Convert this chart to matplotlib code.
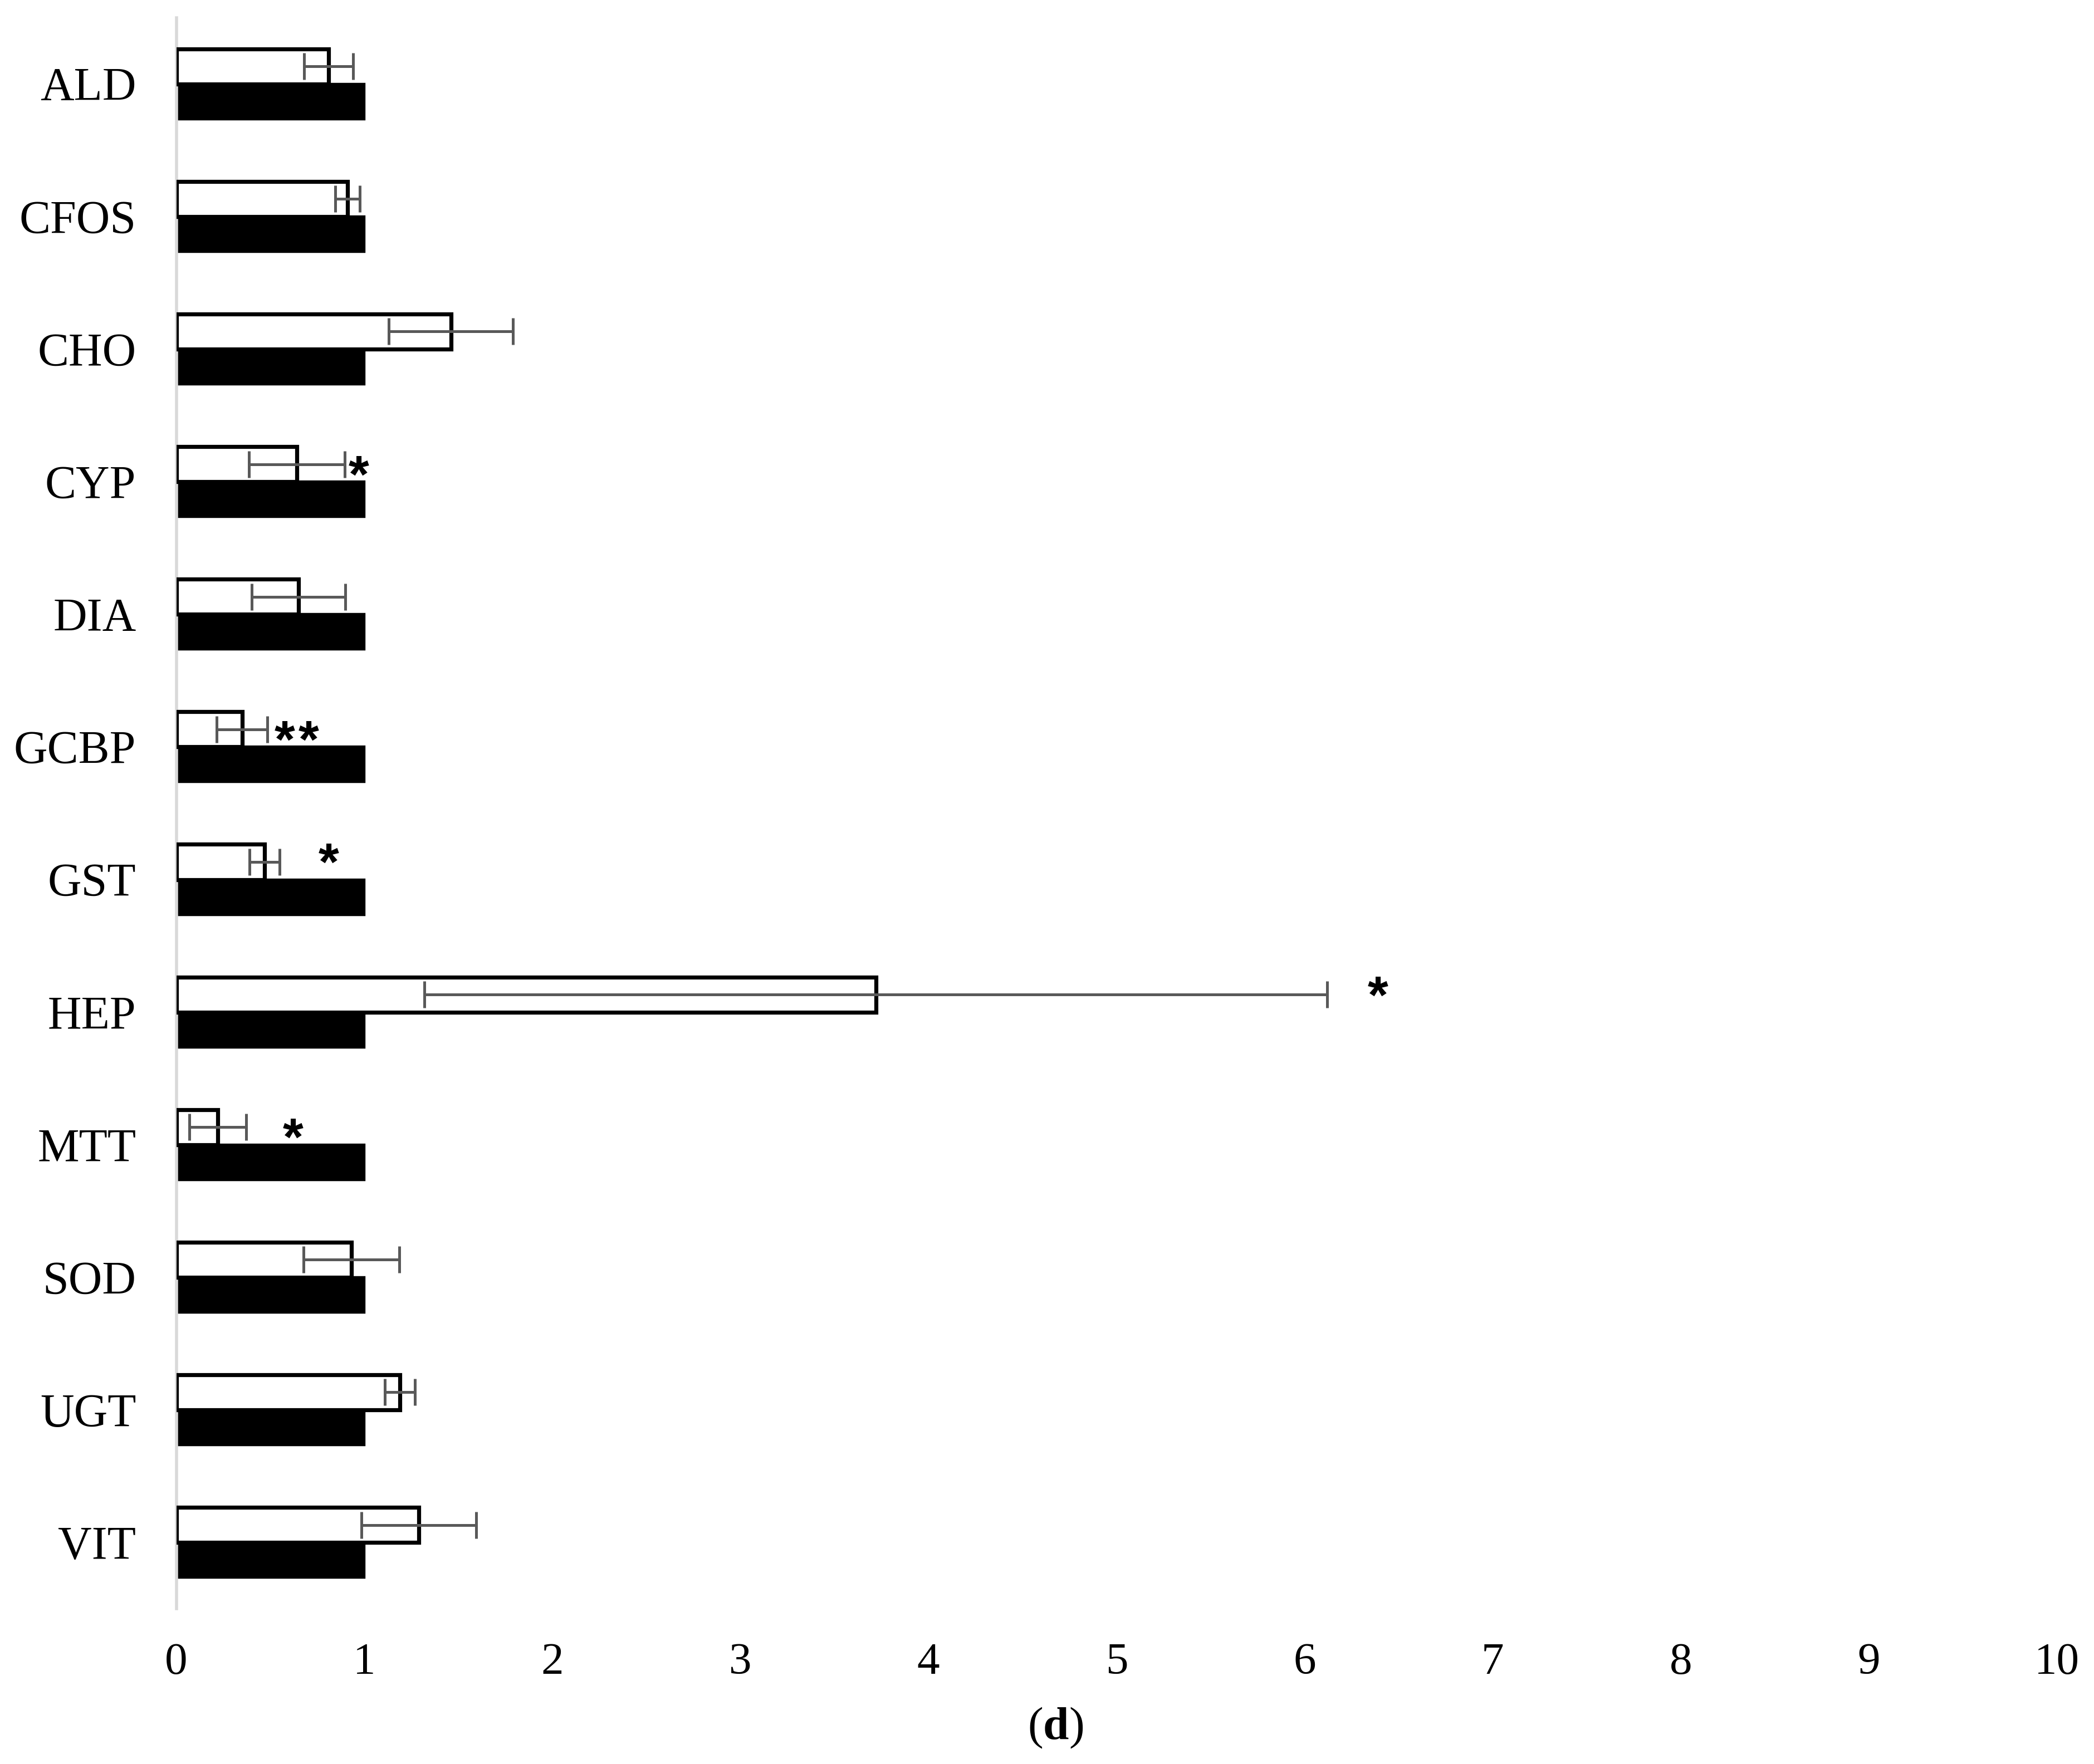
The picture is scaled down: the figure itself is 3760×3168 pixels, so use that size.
import numpy as np
import matplotlib
matplotlib.use("Agg")
import matplotlib.pyplot as plt

# relative expression, treated (white) vs control (black)
genes = ["ALD", "CFOS", "CHO", "CYP", "DIA", "GCBP", "GST", "HEP", "MTT", "SOD", "UGT", "VIT"]
treated = [0.81, 0.91, 1.46, 0.64, 0.65, 0.35, 0.47, 3.72, 0.22, 0.93, 1.19, 1.29]
treated_err = [0.13, 0.065, 0.33, 0.255, 0.25, 0.135, 0.08, 2.4, 0.15, 0.255, 0.08, 0.305]
control = [1.0, 1.0, 1.0, 1.0, 1.0, 1.0, 1.0, 1.0, 1.0, 1.0, 1.0, 1.0]
# significance marks: (gene, number of stars, x position)
signif = [("CYP", 1, 0.97), ("GCBP", 2, 0.64), ("GST", 1, 0.81),
          ("HEP", 1, 6.39), ("MTT", 1, 0.62)]
raised = ["GST", "HEP"]  # these stars sit a little higher in the original

plt.rcParams["font.family"] = ["Liberation Serif", "DejaVu Serif"]
plt.rcParams["mathtext.fontset"] = "custom"
plt.rcParams["mathtext.rm"] = "Liberation Serif"
plt.rcParams["mathtext.bf"] = "Liberation Serif:bold"

fig = plt.figure(figsize=(9.4, 7.92), dpi=400)
ax = fig.add_axes([0.0842, 0.088, 0.898, 0.902])

y = np.arange(len(genes))
h = 0.265

ax.barh(y + h / 2, control, height=h, color="black", edgecolor="black", linewidth=0.8, zorder=2)
ax.barh(y - h / 2, treated, height=h, color="white", edgecolor="black", linewidth=1.3, zorder=3)
ax.errorbar(treated, y - h / 2, xerr=treated_err, fmt="none", ecolor="#595959",
            elinewidth=0.9, capsize=4.3, capthick=0.9, zorder=4)

# y axis is inverted, so a smaller offset puts the star higher
for gene, n, xpos in signif:
    i = genes.index(gene)
    off = 0.135 if gene in raised else 0.21
    for k in range(n):
        xs = xpos + (k - (n - 1) / 2) * 0.125
        ax.text(xs, i - h / 2 + off, "*", ha="center", va="baseline", fontsize=17,
                fontweight="bold", family="Liberation Sans", zorder=5)

ax.set_xlim(0, 10)
ax.set_ylim(len(genes) - 0.5, -0.5)
ax.set_xticks(range(0, 11))
ax.set_yticks(y)
ax.set_yticklabels(genes, fontsize=15.1)
ax.tick_params(axis="x", length=0, pad=11, labelsize=14.6)
ax.tick_params(axis="y", length=0, pad=13)

for s in ["top", "right", "bottom"]:
    ax.spines[s].set_visible(False)
ax.spines["left"].set_color("#d9d9d9")
ax.spines["left"].set_linewidth(1.0)

fig.text(0.504, 0.0205, r"($\mathbf{d}$)", ha="center", va="center", fontsize=15)

fig.savefig("out.png", dpi=400)
